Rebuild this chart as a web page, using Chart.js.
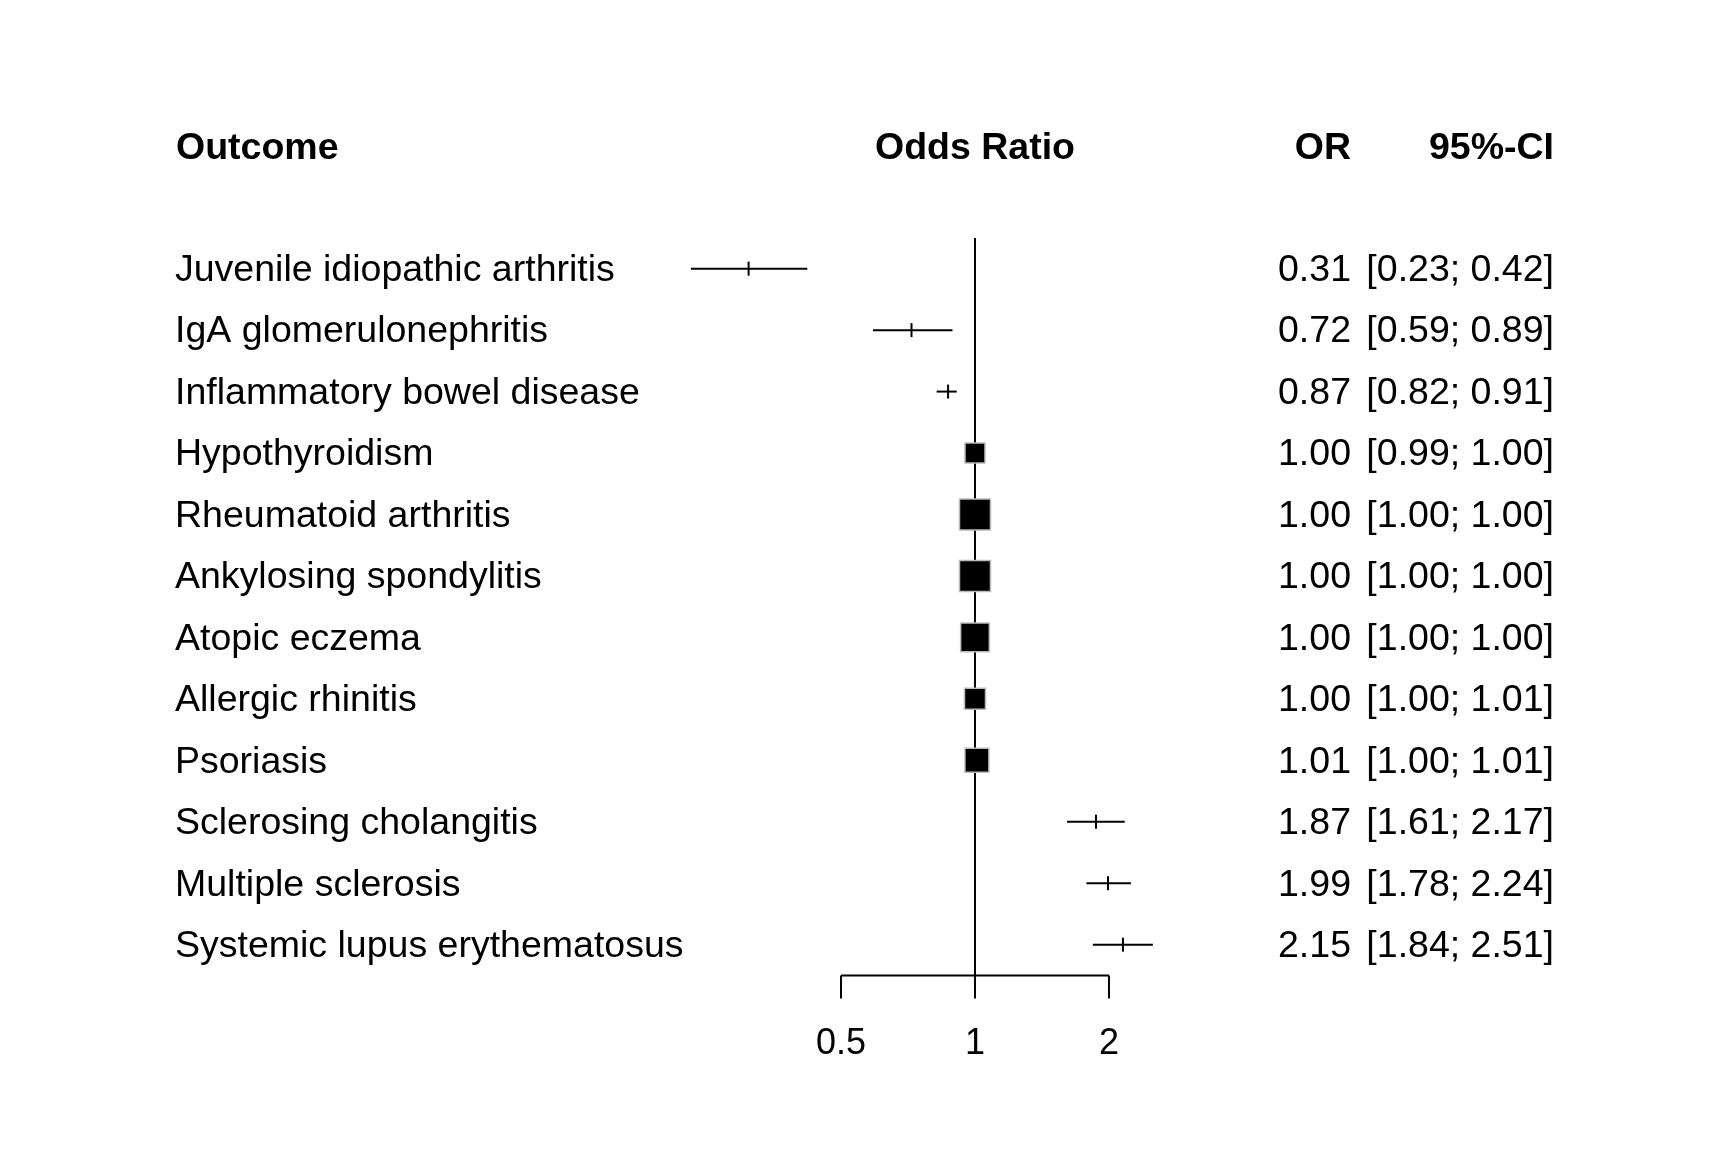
<!DOCTYPE html>
<html>
<head>
<meta charset="utf-8">
<title>Odds Ratio forest plot</title>
<script src="https://cdn.jsdelivr.net/npm/chart.js@4.4.0/dist/chart.umd.min.js"></script>
<style>
  html, body { margin: 0; padding: 0; background: #fff; }
  #wrap { width: 1728px; height: 1152px; }
</style>
</head>
<body>
<div id="wrap"><canvas id="forest" width="1728" height="1152"></canvas></div>
<script>
const outcomes = [
  "Juvenile idiopathic arthritis", "IgA glomerulonephritis", "Inflammatory bowel disease",
  "Hypothyroidism", "Rheumatoid arthritis", "Ankylosing spondylitis", "Atopic eczema",
  "Allergic rhinitis", "Psoriasis", "Sclerosing cholangitis", "Multiple sclerosis",
  "Systemic lupus erythematosus"
];
const oddsRatio = [0.31, 0.72, 0.87, 1.00, 1.00, 1.00, 1.00, 1.00, 1.01, 1.87, 1.99, 2.15];
const ciLower   = [0.23, 0.59, 0.82, 0.99, 1.00, 1.00, 1.00, 1.00, 1.00, 1.61, 1.78, 1.84];
const ciUpper   = [0.42, 0.89, 0.91, 1.00, 1.00, 1.00, 1.00, 1.01, 1.01, 2.17, 2.24, 2.51];
// relative weights (%), 0 = too small for a visible box
const weights   = [0, 0, 0, 9.6, 23.1, 23.1, 19.8, 10.6, 13.8, 0, 0, 0];
const axisTicks = [0.5, 1, 2];
const headers = { outcome: "Outcome", plot: "Odds Ratio", or: "OR", ci: "95%-CI" };

const FONT = "'Liberation Sans', Arial, Helvetica, sans-serif";
const MAX_BOX = 31;
const maxW = Math.max(...weights);
const rowY = outcomes.map((_, i) => i + 1);
const fmt = v => v.toFixed(2);

const ciSets = outcomes.map((_, i) => ({
  type: "line",
  data: [{ x: ciLower[i], y: rowY[i] }, { x: ciUpper[i], y: rowY[i] }],
  borderColor: "#000", borderWidth: 2, pointRadius: 0, order: 2
}));

const boxIdx = rowY.map((_, i) => i).filter(i => weights[i] > 0);
const tickIdx = rowY.map((_, i) => i).filter(i => weights[i] === 0);

const forestText = {
  id: "forestText",
  afterDraw(chart) {
    const { ctx, scales: { x, y } } = chart;
    ctx.save();
    ctx.fillStyle = "#000";
    ctx.textBaseline = "middle";

    // headers
    const hy = y.getPixelForValue(-1) + 3;
    ctx.font = "bold 37.5px " + FONT;
    ctx.textAlign = "left";
    ctx.fillText(headers.outcome, 176, hy);
    ctx.textAlign = "center";
    ctx.fillText(headers.plot, x.getPixelForValue(1), hy);
    ctx.textAlign = "right";
    ctx.fillText(headers.or, 1351, hy);
    ctx.fillText(headers.ci, 1554, hy);

    // rows
    ctx.font = "37.5px " + FONT;
    outcomes.forEach((name, i) => {
      const py = y.getPixelForValue(rowY[i]) + 2;
      ctx.textAlign = "left";
      ctx.fillText(name, 175, py);
      ctx.textAlign = "right";
      ctx.fillText(fmt(oddsRatio[i]), 1351, py);
      ctx.fillText("[" + fmt(ciLower[i]) + "; " + fmt(ciUpper[i]) + "]", 1554, py);
    });

    // x axis
    const ay = y.getPixelForValue(outcomes.length + 0.5);
    const x0 = x.getPixelForValue(axisTicks[0]);
    const x1 = x.getPixelForValue(axisTicks[axisTicks.length - 1]);
    ctx.strokeStyle = "#000";
    ctx.lineWidth = 2;
    ctx.beginPath();
    ctx.moveTo(x0, ay);
    ctx.lineTo(x1, ay);
    axisTicks.forEach(t => {
      const px = x.getPixelForValue(t);
      ctx.moveTo(px, ay);
      ctx.lineTo(px, ay + 23);
    });
    ctx.stroke();
    ctx.font = "36px " + FONT;
    ctx.textAlign = "center";
    axisTicks.forEach(t => ctx.fillText(String(t), x.getPixelForValue(t), ay + 69));
    ctx.restore();
  }
};

new Chart(document.getElementById("forest"), {
  type: "scatter",
  data: {
    datasets: [
      {
        data: boxIdx.map(i => ({ x: oddsRatio[i], y: rowY[i] })),
        pointStyle: "rect",
        pointRadius: boxIdx.map(i => MAX_BOX * Math.sqrt(weights[i] / maxW) / Math.SQRT2),
        backgroundColor: "#000",
        borderColor: "#bbbbbb",
        borderWidth: 1.5,
        order: 0
      },
      {
        data: tickIdx.map(i => ({ x: oddsRatio[i], y: rowY[i] })),
        pointStyle: "line",
        rotation: 90,
        pointRadius: 7,
        borderColor: "#000",
        borderWidth: 2,
        order: 1
      },
      ...ciSets,
      {
        type: "line",
        data: [{ x: 1, y: 0.5 }, { x: 1, y: outcomes.length + 0.5 }],
        borderColor: "#000", borderWidth: 2, pointRadius: 0, order: 3
      }
    ]
  },
  options: {
    responsive: false,
    devicePixelRatio: 1,
    animation: false,
    events: [],
    clip: false,
    layout: { padding: { left: 600, right: 528, top: 176.5, bottom: 53.7 } },
    plugins: { legend: { display: false }, tooltip: { enabled: false } },
    scales: {
      x: { type: "logarithmic", min: 0.1437, max: 3.203, bounds: "data", display: false },
      y: { type: "linear", min: -0.5, max: 14.5, reverse: true, display: false }
    }
  },
  plugins: [forestText]
});
</script>
</body>
</html>
